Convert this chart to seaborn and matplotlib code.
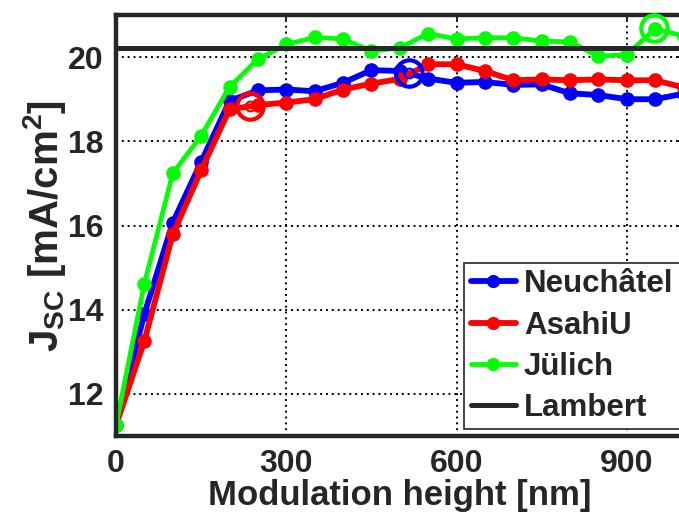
import matplotlib
matplotlib.use("Agg")
import matplotlib.pyplot as plt
import seaborn as sns
import pandas as pd

# modulation height [nm]
heights = [0, 50, 100, 150, 200, 250, 300, 350, 400, 450, 500,
           550, 600, 650, 700, 750, 800, 850, 900, 950, 1000]

neuchatel = [11.25, 13.9, 16.07, 17.51, 18.96, 19.21, 19.23, 19.19, 19.39, 19.69, 19.67,
             19.49, 19.39, 19.41, 19.34, 19.35, 19.14, 19.10, 19.00, 19.00, 19.13]
asahiu = [11.25, 13.26, 15.79, 17.31, 18.76, 18.86, 18.92, 19.00, 19.23, 19.37, 19.48,
          19.83, 19.83, 19.67, 19.45, 19.47, 19.45, 19.47, 19.45, 19.45, 19.28]
julich = [11.25, 14.62, 17.24, 18.13, 19.29, 19.95, 20.30, 20.47, 20.43, 20.14, 20.22,
          20.56, 20.43, 20.46, 20.46, 20.38, 20.36, 20.02, 20.06, 20.67, 20.50]
lambert = 20.22

# optimum markers (x, y)
opt_neuchatel = (517, 19.63)
opt_asahiu = (236, 18.84)
opt_julich = (948, 20.69)

series_names = ["Neuchâtel", "AsahiU", "Jülich"]
series_colors = ["#0000ff", "#ff0000", "#00ff00"]
series_widths = [4.2, 4.2, 3.4]

df = pd.DataFrame({
    "height": heights * 3,
    "jsc": neuchatel + asahiu + julich,
    "cell": [n for n in series_names for _ in heights],
})

sns.set_style("white")
plt.rcParams["font.family"] = ["Liberation Sans", "DejaVu Sans"]
plt.rcParams["font.weight"] = "bold"
plt.rcParams["mathtext.fontset"] = "custom"
plt.rcParams["mathtext.rm"] = "Liberation Sans:bold"
plt.rcParams["mathtext.bf"] = "Liberation Sans:bold"
plt.rcParams["mathtext.default"] = "bf"

dark = "#262626"
fig = plt.figure(figsize=(6.79, 5.14), dpi=100)
ax = fig.add_axes([116 / 679, 1 - 436 / 514, (683.5 - 116) / 679, (436 - 15) / 514])

for name, color, lw in zip(series_names, series_colors, series_widths):
    sns.lineplot(data=df[df["cell"] == name], x="height", y="jsc", ax=ax,
                 color=color, linewidth=lw, marker="o", markersize=10.5,
                 markeredgewidth=0, label=name, sort=False)

for (ox, oy), color in zip([opt_neuchatel, opt_asahiu, opt_julich], series_colors):
    ax.plot([ox], [oy], marker="o", ms=19, mfc="none", mec=color, mew=3,
            linestyle="none", clip_on=False, zorder=5)
    ax.plot([ox], [oy], marker="o", ms=7, mfc="none", mec=color, mew=1.5,
            linestyle="none", clip_on=False, zorder=5)

ax.axhline(lambert, color=dark, linewidth=3.6, label="Lambert", zorder=4)

ax.set_xlim(0, 1000)
ax.set_ylim(11, 21)
ax.set_xticks([0, 300, 600, 900])
ax.set_yticks([12, 14, 16, 18, 20])
ax.grid(True, color="black", linestyle=(0, (1, 2)), linewidth=1.4)
ax.tick_params(direction="in", length=4, width=1.5, color=dark,
               labelsize=23, labelcolor=dark, top=True, right=True, pad=9)
for sp in ax.spines.values():
    sp.set_linewidth(3.2)
    sp.set_color(dark)

ax.set_xlabel("Modulation height [nm]", fontsize=25, fontweight="bold",
              color=dark, labelpad=0)
ax.set_ylabel(r"J$_{SC}$ [mA/cm$^{2}$]", fontsize=29, fontweight="bold",
              color=dark, labelpad=0)

leg = ax.legend(loc="lower right", bbox_to_anchor=(0.993, 0.016), fontsize=22.5,
                frameon=True, fancybox=False, framealpha=1, edgecolor=dark,
                handlelength=1.45, handletextpad=0.25, borderpad=0.2,
                labelspacing=0.36, borderaxespad=0)
leg.get_frame().set_linewidth(1.2)
for t in leg.get_texts():
    t.set_color(dark)
for h in leg.legend_handles:
    h.set_markersize(9.5)

fig.savefig("out.png", dpi=100)
